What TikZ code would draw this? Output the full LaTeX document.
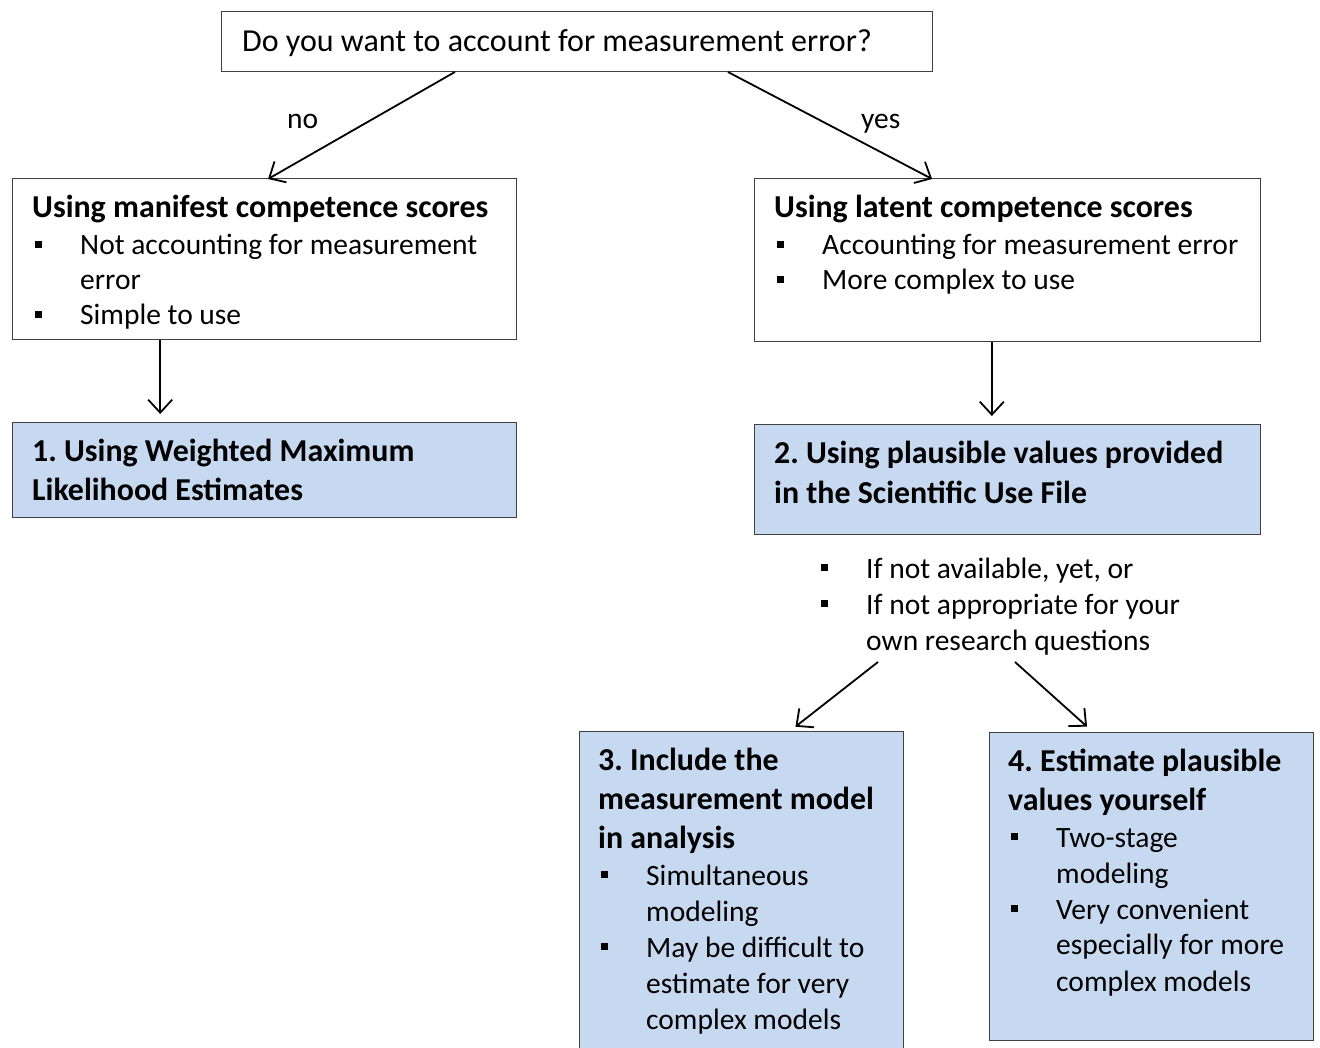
\documentclass[tikz,border=0pt]{standalone}
\usepackage{fontspec}
\setmainfont{Carlito}
\usetikzlibrary{arrows.meta,calc}
\definecolor{boxblue}{HTML}{C6D9F1}
\definecolor{edgegray}{HTML}{404040}
\frenchspacing
\newcommand\fr{\fontsize{29.5}{36}\selectfont}
\newcommand\fb{\fontsize{31.9}{39}\selectfont\bfseries}
\newcommand\ft{\fontsize{32}{38}\selectfont}
\newcommand\sq{\makebox[45pt][l]{\rule[7pt]{7pt}{7pt}}}
\begin{document}
\begin{tikzpicture}[x=1pt,y=-1pt,
  box/.style={draw=edgegray, line width=1pt, anchor=north west, inner sep=0pt, outer sep=0pt},
  bluebox/.style={box, fill=boxblue},
  txt/.style={anchor=base west, inner sep=0pt, font=\fr},
  hd/.style={txt, font=\fb},
  arr/.style={-{Straight Barb[length=13pt,width=24pt]}, line width=1.8pt}]
\useasboundingbox (0,0) rectangle (1320,1048);
\fill[white] (0,0) rectangle (1320,1048);

% boxes
\node[box, minimum width=711pt, minimum height=60pt] (q) at (221,12) {};
\node[box, minimum width=504pt, minimum height=161pt] (man) at (12,179) {};
\node[box, minimum width=506pt, minimum height=163pt] (lat) at (754,179) {};
\node[bluebox, minimum width=504pt, minimum height=94pt] (wle) at (12,423) {};
\node[bluebox, minimum width=506pt, minimum height=109pt] (pv) at (754,425) {};
\node[bluebox, minimum width=324pt, minimum height=340pt] (inc) at (579,731) {};
\node[bluebox, minimum width=324pt, minimum height=308pt] (est) at (989,732) {};

% texts
\node[txt, font=\ft] (tq) at (242,52) {Do you want to account for measurement error?};
\node[txt] (tno) at (287,129) {no};
\node[txt] (tyes) at (861,129) {yes};

\node[hd] (m0) at (32,218) {Using manifest competence scores};
\node[txt] (m1) at (35,255) {\sq Not accounting for measurement};
\node[txt] (m2) at (80,290) {error};
\node[txt] (m3) at (35,325) {\sq Simple to use};

\node[hd] (l0) at (774,218) {Using latent competence scores};
\node[txt] (l1) at (777,255) {\sq Accounting for measurement error};
\node[txt] (l2) at (777,290) {\sq More complex to use};

\node[hd] (w1) at (32,461) {1. Using Weighted Maximum};
\node[hd] (w2) at (32,500) {Likelihood Estimates};

\node[hd] (p1) at (774,464) {2. Using plausible values provided};
\node[hd] (p2) at (774,503) {in the Scientific Use File};

\node[txt] (b1) at (821,578) {\sq If not available, yet, or};
\node[txt] (b2) at (821,614) {\sq If not appropriate for your};
\node[txt] (b3) at (866,650) {own research questions};

\node[hd] (i1) at (598,770) {3. Include the};
\node[hd] (i2) at (598,809) {measurement model};
\node[hd] (i3) at (598,848) {in analysis};
\node[txt] (i4) at (601,885) {\sq Simultaneous};
\node[txt] (i5) at (646,921) {modeling};
\node[txt] (i6) at (601,957) {\sq May be difficult to};
\node[txt] (i7) at (646,993) {estimate for very};
\node[txt] (i8) at (646,1029) {complex models};

\node[hd] (e1) at (1008,771) {4. Estimate plausible};
\node[hd] (e2) at (1008,810) {values yourself};
\node[txt] (e3) at (1011,847) {\sq Two-stage};
\node[txt] (e4) at (1056,883) {modeling};
\node[txt] (e5) at (1011,919) {\sq Very convenient};
\node[txt] (e6) at (1056,954) {especially for more};
\node[txt] (e7) at (1056,991) {complex models};

% connectors
\draw[arr] ($(q.south west)!0.329!(q.south east)$) -- ($(man.north west)!0.508!(man.north east)$);
\draw[arr] ($(q.south west)!0.713!(q.south east)$) -- ($(lat.north west)!0.352!(lat.north east)$);
\coordinate (ma) at ($(man.south west)!0.294!(man.south east)$);
\draw[arr, shorten >=9pt] (ma) -- (ma |- wle.north);
\coordinate (la) at ($(lat.south west)!0.470!(lat.south east)$);
\draw[arr, shorten >=9pt] (la) -- (la |- pv.north);
\coordinate (s1) at (878,662);
\coordinate (s2) at (1015,662);
\draw[arr, shorten >=7pt] (s1) -- ($(inc.north west)!0.651!(inc.north east)$);
\draw[arr, shorten >=8pt] (s2) -- ($(est.north west)!0.321!(est.north east)$);
\end{tikzpicture}
\end{document}
